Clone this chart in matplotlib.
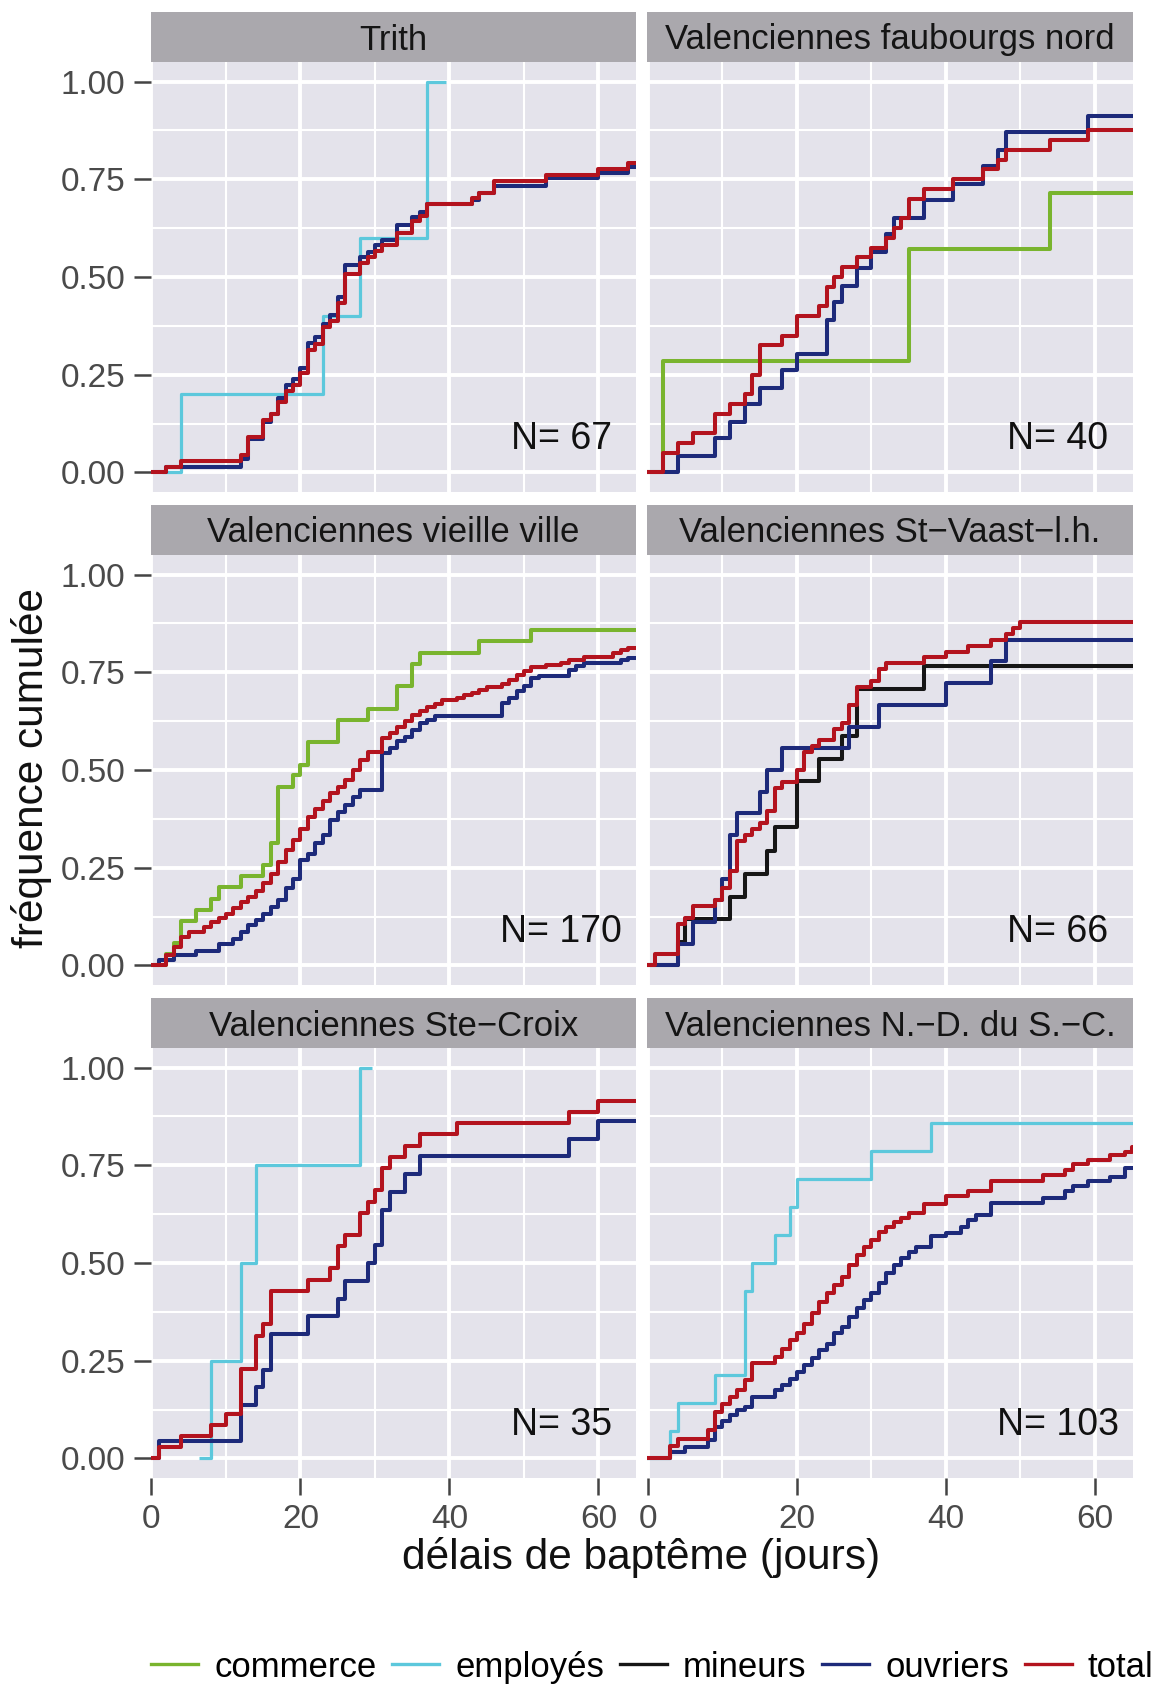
import matplotlib.pyplot as plt
from matplotlib.lines import Line2D

plt.rcParams["font.family"] = ["Liberation Sans", "DejaVu Sans"]

categories = ["commerce", "employés", "mineurs", "ouvriers", "total"]
line_colors = ["#79B42E", "#5CC8DC", "#161616", "#1D2A7A", "#B3131E"]

panel_titles = ["Trith", "Valenciennes faubourgs nord",
                "Valenciennes vieille ville", "Valenciennes St\u2212Vaast\u2212l.h.",
                "Valenciennes Ste\u2212Croix", "Valenciennes N.\u2212D. du S.\u2212C."]
panel_n = [67, 40, 170, 66, 35, 103]

# step corners (day, cumulative frequency)
trith = {
    "employés": ([1.4, 4, 23, 28, 37, 39.6], [0, .2, .4, .6, 1, 1]),
    "ouvriers": ([-5, 2, 12, 13, 15, 16, 17, 18, 19, 20, 21, 22, 23, 24, 25, 26, 28, 29, 30, 31,
                  33, 35, 36, 37, 43, 44, 46, 53, 60, 64, 70],
                 [0, .015, .035, .086, .13, .15, .19, .223, .24, .266, .33, .347, .38, .402, .449, .53,
                  .552, .564, .582, .594, .633, .654, .667, .688, .697, .714, .733, .752, .765, .782, .782]),
    "total": ([-5, 2, 4, 12, 13, 15, 16, 17, 18, 19, 20, 21, 22, 23, 24, 25, 26, 28, 29, 30, 31,
               33, 35, 36, 37, 43, 44, 46, 53, 60, 64, 70],
              [0, .015, .03, .045, .09, .134, .149, .179, .209, .224, .254, .313, .328, .373, .388, .433,
               .507, .537, .552, .567, .582, .612, .642, .657, .687, .701, .716, .746, .761, .776, .791, .791]),
}

faubourgs_nord = {
    "commerce": ([-5, 2, 35, 54, 70], [0, .286, .571, .714, .714]),
    "ouvriers": ([-5, 4, 9, 11, 13, 15, 18, 20, 24, 25, 26, 28, 30, 32, 33, 37, 41, 45, 47, 48, 59, 70],
                 [0, .043, .087, .13, .174, .217, .261, .304, .391, .435, .478, .522, .565, .609, .652,
                  .696, .739, .783, .826, .87, .913, .913]),
    "total": ([-5, 2, 4, 6, 9, 11, 13, 14, 15, 18, 20, 23, 24, 25, 26, 28, 30, 32, 33, 34, 35, 37,
               41, 45, 47, 48, 54, 59, 70],
              [0, .05, .075, .10, .15, .175, .20, .25, .325, .35, .40, .425, .475, .50, .525, .55, .575,
               .60, .625, .65, .70, .725, .75, .775, .80, .825, .85, .875, .875]),
}

vieille_ville = {
    "commerce": ([-5, 2, 3, 4, 6, 8, 9, 12, 15, 16, 17, 19, 20, 21, 25, 29, 33, 35, 36, 44, 51, 70],
                 [0, .029, .057, .114, .143, .171, .20, .229, .257, .314, .457, .486, .514, .571, .629,
                  .657, .714, .771, .80, .829, .857, .857]),
    "ouvriers": ([-5, 1, 3, 6, 9, 11, 12, 13, 14, 15, 16, 17, 18, 19, 20, 21, 22, 23, 24, 25, 26, 27,
                  28, 31, 32, 33, 34, 35, 36, 37, 38, 47, 48, 49, 50, 51, 52, 56, 57, 58, 63, 64, 70],
                 [0, .015, .026, .038, .056, .068, .085, .103, .115, .132, .15, .167, .197, .222, .269,
                  .286, .312, .333, .372, .393, .41, .432, .449, .543, .556, .573, .585, .603, .62, .628,
                  .637, .671, .684, .701, .714, .735, .741, .756, .765, .774, .782, .786, .786]),
    "total": ([-5, 2, 3, 4, 5, 7, 8, 9, 10, 11, 12, 13, 14, 15, 16, 17, 18, 19, 20, 21, 22, 23, 24,
               25, 26, 27, 28, 29, 31, 32, 33, 34, 35, 36, 37, 38, 39, 41, 42, 43, 44, 45, 47, 48,
               49, 50, 51, 53, 55, 56, 58, 62, 63, 64, 70],
              [0, .026, .047, .073, .085, .098, .111, .122, .132, .147, .162, .175, .19, .21, .235,
               .265, .295, .32, .35, .38, .401, .42, .44, .457, .474, .50, .525, .547, .581, .594,
               .611, .626, .641, .652, .662, .67, .678, .684, .692, .698, .705, .712, .72, .73, .742,
               .754, .763, .768, .774, .781, .79, .80, .807, .812, .812]),
}

st_vaast = {
    "mineurs": ([-5, 4, 5, 11, 13, 16, 17, 20, 23, 26, 28, 37, 70],
                [0, .059, .118, .176, .235, .294, .353, .471, .529, .588, .706, .765, .765]),
    "ouvriers": ([-5, 4, 6, 9, 10, 11, 12, 15, 16, 18, 27, 31, 40, 46, 48, 70],
                 [0, .056, .111, .167, .222, .333, .389, .444, .50, .556, .611, .667, .722, .778, .833,
                  .833]),
    "total": ([-5, 1, 4, 5, 6, 9, 10, 11, 12, 13, 14, 15, 16, 17, 18, 20, 21, 22, 23, 25, 26, 27,
               28, 30, 31, 32, 37, 40, 43, 46, 48, 49, 50, 70],
              [0, .03, .106, .121, .152, .167, .197, .242, .318, .333, .348, .364, .394, .455, .47,
               .50, .545, .561, .576, .606, .621, .667, .712, .727, .758, .773, .788, .803, .818,
               .833, .848, .864, .879, .879]),
}

ste_croix = {
    "employés": ([6.4, 8, 12, 14, 28, 29.6], [0, .25, .5, .75, 1, 1]),
    "ouvriers": ([-5, 1, 12, 14, 15, 16, 21, 25, 26, 29, 30, 31, 32, 34, 36, 56, 60, 70],
                 [0, .045, .136, .182, .227, .318, .364, .409, .455, .50, .545, .636, .682, .727,
                  .773, .818, .864, .864]),
    "total": ([-5, 1, 4, 8, 10, 12, 14, 15, 16, 21, 24, 25, 26, 28, 29, 30, 31, 32, 34, 36, 41,
               56, 60, 70],
              [0, .029, .057, .086, .114, .229, .314, .343, .429, .457, .486, .543, .571, .629,
               .657, .686, .743, .771, .80, .829, .857, .886, .914, .914]),
}

nd_sc = {
    "employés": ([-5, 3, 4, 9, 13, 14, 17, 19, 20, 30, 38, 70],
                 [0, .071, .143, .214, .429, .50, .571, .643, .714, .786, .857, .857]),
    "ouvriers": ([-5, 3, 5, 8, 9, 10, 11, 12, 13, 14, 17, 18, 19, 20, 21, 22, 23, 24, 25, 26, 27,
                  28, 29, 30, 31, 32, 33, 34, 35, 36, 38, 40, 42, 43, 44, 46, 53, 56, 57, 59, 62,
                  64, 70],
                 [0, .016, .029, .046, .08, .097, .11, .123, .131, .157, .174, .187, .204, .221,
                  .239, .256, .277, .294, .32, .337, .363, .384, .405, .422, .448, .474, .495, .512,
                  .529, .542, .568, .576, .593, .61, .623, .653, .666, .683, .696, .709, .721, .743,
                  .743]),
    "total": ([-5, 3, 4, 8, 9, 10, 11, 12, 13, 14, 17, 18, 19, 20, 21, 22, 23, 24, 25, 26, 27, 28,
               29, 30, 31, 32, 33, 34, 35, 37, 40, 43, 46, 53, 56, 57, 59, 62, 64, 65, 70],
              [0, .033, .05, .072, .119, .14, .157, .174, .20, .243, .26, .281, .303, .32, .345,
               .371, .40, .422, .444, .465, .495, .521, .542, .559, .58, .593, .606, .615, .627,
               .65, .672, .685, .711, .724, .737, .754, .763, .776, .784, .797, .797]),
}

panels = [trith, faubourgs_nord, vieille_ville, st_vaast, ste_croix, nd_sc]

W, H = 1159, 1685
fig = plt.figure(figsize=(W / 100, H / 100), dpi=100)

col_left = [150.75, 647.25]
ax_w = 485.7
row_top = [62, 555, 1048]
ax_h = 430
strip_h = 50
panel_bg = "#E4E3EB"
strip_bg = "#AAA8AD"

for i, data in enumerate(panels):
    r, c = divmod(i, 2)
    ax = fig.add_axes([col_left[c] / W, 1 - (row_top[r] + ax_h) / H, ax_w / W, ax_h / H])
    ax.set_facecolor(panel_bg)
    for s in ax.spines.values():
        s.set_visible(False)
    ax.set_xlim(-0.1, 65.1)
    ax.set_ylim(-0.05, 1.05)
    ax.set_xticks([0, 20, 40, 60])
    ax.set_xticks([10, 30, 50], minor=True)
    ax.set_yticks([0, .25, .5, .75, 1])
    ax.set_yticks([.125, .375, .625, .875], minor=True)
    ax.set_yticklabels(["0.00", "0.25", "0.50", "0.75", "1.00"])
    ax.grid(which="major", color="white", lw=2.8)
    ax.grid(which="minor", color="white", lw=1.5)
    ax.set_axisbelow(True)
    ax.tick_params(which="minor", length=0)
    ax.tick_params(which="major", length=12.5, width=1.8, color="#444444",
                   labelsize=24, labelcolor="#4a4a4a", pad=6,
                   left=(c == 0), labelleft=(c == 0),
                   bottom=(r == 2), labelbottom=(r == 2))

    for cat, col in zip(categories, line_colors):
        if cat in data:
            xs, ys = data[cat]
            ax.step(xs, ys, where="post", color=col,
                    lw=2.3 if cat == "employés" else 2.9, solid_capstyle="butt")

    ax.text(55, 0.06, f"N= {panel_n[i]}", ha="center", va="baseline",
            fontsize=27, color="#111111")

    sax = fig.add_axes([col_left[c] / W, 1 - row_top[r] / H, ax_w / W, strip_h / H])
    sax.set_facecolor(strip_bg)
    sax.set_xticks([])
    sax.set_yticks([])
    for s in sax.spines.values():
        s.set_visible(False)
    sax.text(0.5, 0.44, panel_titles[i], ha="center", va="center",
             fontsize=25, color="#151515", transform=sax.transAxes)

fig.text(32 / W, 1 - 768 / H, "fréquence cumulée", rotation=90,
         ha="center", va="center", fontsize=30.5, color="#111111")
fig.text(641 / W, 1 - 1557 / H, "délais de baptême (jours)",
         ha="center", va="center", fontsize=30.5, color="#111111")

handles = [Line2D([], [], color=col, lw=2.4) for col in line_colors]
fig.legend(handles, categories, loc="center", bbox_to_anchor=(0.563, 1 - 1667 / H),
           ncol=5, frameon=False, fontsize=25, handlelength=1.35,
           handletextpad=0.46, columnspacing=0.46, borderpad=0, borderaxespad=0)

fig.savefig("out.png", dpi=100)
